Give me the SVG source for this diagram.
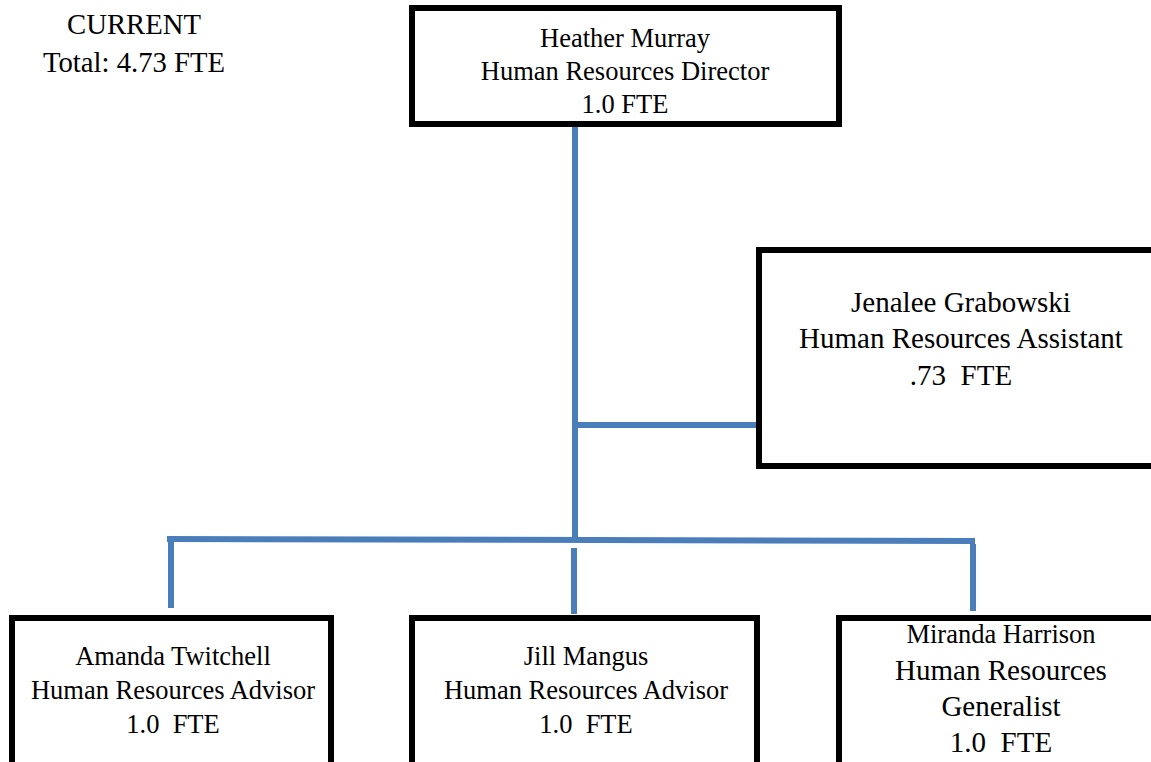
<svg xmlns="http://www.w3.org/2000/svg" width="1151" height="762" viewBox="0 0 1151 762">
<style>
.box{fill:#fff;stroke:#000;stroke-width:6}
.t{font-family:"Liberation Serif","Times New Roman",serif;fill:#000;text-anchor:middle}
.s{font-size:26.5px}
.l{font-size:29px}
.c{stroke:#4a7ebb;stroke-width:6;fill:none}
</style>
<rect width="1151" height="762" fill="#fff"/>
<g id="label">
<text class="t" x="134" y="34" font-size="28.7">CURRENT</text>
<text class="t" x="134" y="72" font-size="28.7">Total: 4.73 FTE</text>
</g>
<g id="connectors">
<line class="c" x1="575" y1="126" x2="575" y2="541"/>
<line class="c" x1="575" y1="425" x2="757" y2="425"/>
<line class="c" x1="167" y1="539" x2="975" y2="541"/>
<line class="c" x1="171" y1="540" x2="171" y2="608"/>
<line class="c" x1="574" y1="548" x2="574" y2="614"/>
<line class="c" x1="973" y1="544" x2="973" y2="611"/>
</g>
<g id="director">
<rect class="box" x="412" y="8" width="427" height="116"/>
<text class="t s" x="625" y="47">Heather Murray</text>
<text class="t s" x="625" y="80">Human Resources Director</text>
<text class="t s" x="625" y="113">1.0 FTE</text>
</g>
<g id="assistant">
<rect class="box" x="759" y="250" width="400" height="216"/>
<text class="t l" x="961" y="312">Jenalee Grabowski</text>
<text class="t l" x="961" y="348">Human Resources Assistant</text>
<text class="t l" x="961" y="385" xml:space="preserve">.73  FTE</text>
</g>
<g id="advisor1">
<rect class="box" x="12" y="618" width="319" height="160"/>
<text class="t s" x="173" y="665">Amanda Twitchell</text>
<text class="t s" x="173" y="699">Human Resources Advisor</text>
<text class="t s" x="173" y="733" xml:space="preserve">1.0  FTE</text>
</g>
<g id="advisor2">
<rect class="box" x="412" y="618" width="345" height="160"/>
<text class="t s" x="586" y="665">Jill Mangus</text>
<text class="t s" x="586" y="699">Human Resources Advisor</text>
<text class="t s" x="586" y="733" xml:space="preserve">1.0  FTE</text>
</g>
<g id="generalist">
<rect class="box" x="839" y="618" width="330" height="160"/>
<text class="t s" x="1001" y="643">Miranda Harrison</text>
<text class="t l" x="1001" y="680">Human Resources</text>
<text class="t l" x="1001" y="716">Generalist</text>
<text class="t l" x="1001" y="752" xml:space="preserve">1.0  FTE</text>
</g>
</svg>
